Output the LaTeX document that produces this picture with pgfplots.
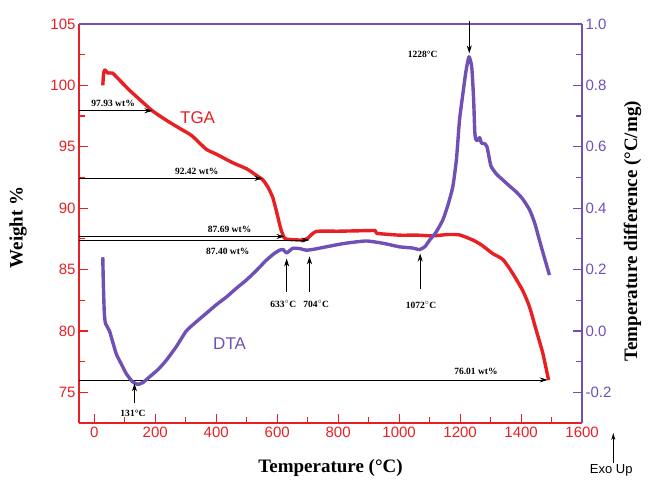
\documentclass[border=0pt]{standalone}
\usepackage{pgfplots}
\pgfplotsset{compat=1.18}
\usepackage{fontspec}
\setmainfont{Liberation Serif}
\newfontfamily\arial{Liberation Sans}
\usetikzlibrary{arrows.meta}

\definecolor{tgared}{RGB}{232,32,36}
\definecolor{dtapur}{RGB}{112,80,180}

\tikzset{
  ann/.style={-{Stealth[length=8pt,width=5pt]}, line width=0.8pt, black},
  annlab/.style={font=\fontsize{9.5}{10}\selectfont\bfseries, inner sep=1pt},
}

\pgfplotsset{
  common/.style={
    scale only axis, width=503pt, height=399pt,
    xmin=-50, xmax=1600,
    tick align=inside,
    major tick length=9pt, minor tick length=6pt,
    clip=false,
    ticklabel style={font=\arial\fontsize{15}{16}\selectfont},
    label style={font=\fontsize{19}{21}\selectfont\bfseries},
  }
}

\begin{document}
\begin{tikzpicture}
\begin{axis}[
  common,
  axis x line*=bottom, axis y line*=left,
  ymin=72.5, ymax=105,
  xtick={0,200,...,1600}, minor x tick num=1,
  xticklabels={0,200,400,600,800,1000,1200,1400,1600},
  ytick={75,80,...,105}, minor y tick num=1,
  yticklabels={75,80,85,90,95,100,105},
  axis line style={tgared, line width=1.5pt},
  every tick/.style={tgared, line width=1.2pt},
  ticklabel style={text=tgared},
  xlabel={Temperature (°C)},
  ylabel={Weight \%},
  xlabel style={at={(axis description cs:0.5,-0.113)}, anchor=center},
  ylabel style={at={(axis description cs:-0.121,0.49)}, anchor=center},
]
\addplot[tgared, line width=3.4pt, line join=round, smooth, tension=0.35] coordinates {
 (28,100.0) (31,101.0) (35,101.25) (45,101.0) (60,101.0) (80,100.5) (120,99.5)
 (160,98.6) (192,97.9) (240,97.1) (280,96.5) (320,95.9) (367,94.8) (400,94.4)
 (454,93.7) (500,93.2) (530,92.7) (553,92.3) (570,91.7) (585,90.9) (595,90.0)
 (602,89.3) (612,88.3) (624,87.55) (640,87.45) (660,87.42) (684,87.4) (700,87.55)
 (728,88.1) (800,88.12) (860,88.15) (922,88.17) (926,87.95) (1000,87.8)
 (1060,87.8) (1110,87.74) (1159,87.85) (1198,87.82) (1242,87.4) (1270,87.0)
 (1307,86.3) (1341,85.8) (1372,84.7) (1405,83.3) (1427,82.0) (1449,80.1)
 (1471,78.2) (1490,76.0)
};
\node[tgared, font=\arial\fontsize{17}{18}\selectfont] at (axis cs:339,97.35) {TGA};
% weight-loss arrows
\draw[ann] (axis cs:-50,97.93) -- (axis cs:191,97.93);
\node[annlab] at (axis cs:62,98.55) {97.93 wt\%};
\draw[ann] (axis cs:-50,92.42) -- (axis cs:552,92.42);
\node[annlab] at (axis cs:336,93.0) {92.42 wt\%};
\draw[ann] (axis cs:-50,87.69) -- (axis cs:624,87.69);
\node[annlab] at (axis cs:444,88.3) {87.69 wt\%};
\draw[ann] (axis cs:-50,87.40) -- (axis cs:706,87.40);
\node[annlab] at (axis cs:438,86.45) {87.40 wt\%};
\draw[ann] (axis cs:-50,76.01) -- (axis cs:1487,76.01);
\node[annlab] at (axis cs:1252,76.7) {76.01 wt\%};
\end{axis}

\begin{axis}[
  common,
  axis x line*=top, axis y line*=right,
  xtick=\empty,
  ymin=-0.3, ymax=1.0,
  ytick={-0.2,0,0.2,0.4,0.6,0.8,1.0}, minor y tick num=1,
  yticklabels={-0.2,0.0,0.2,0.4,0.6,0.8,1.0},
  axis line style={dtapur, line width=1.5pt},
  every tick/.style={dtapur, line width=1.2pt},
  ticklabel style={text=dtapur},
  ylabel={Temperature difference (°C/mg)},
  ylabel style={at={(axis description cs:1.10,0.48)}, anchor=center, rotate=0},
]
\addplot[dtapur, line width=3.4pt, line join=round, smooth, tension=0.35] coordinates {
 (28,0.24) (30,0.15) (33,0.06) (37,0.024) (50,0.0) (72,-0.074) (90,-0.11)
 (105,-0.139) (125,-0.165) (143,-0.174) (160,-0.168) (181,-0.15) (210,-0.125)
 (236,-0.096) (270,-0.05) (302,0.0) (335,0.03) (367,0.057) (400,0.085)
 (433,0.11) (465,0.138) (498,0.165) (530,0.195) (564,0.23) (590,0.252)
 (608,0.263) (620,0.265) (631,0.254) (651,0.269) (675,0.268) (695,0.263)
 (720,0.266) (761,0.274) (820,0.285) (892,0.293) (950,0.285) (1001,0.274)
 (1045,0.27) (1067,0.265) (1085,0.275) (1100,0.296) (1120,0.32) (1143,0.361)
 (1160,0.41) (1176,0.47) (1188,0.56) (1198,0.687) (1210,0.78) (1219,0.845)
 (1229,0.893) (1238,0.86) (1244,0.76) (1248,0.65) (1251,0.625) (1257,0.62)
 (1264,0.63) (1270,0.612) (1280,0.61) (1288,0.60) (1296,0.56) (1302,0.535)
 (1320,0.51) (1341,0.491) (1362,0.472) (1384,0.453) (1405,0.43) (1428,0.394)
 (1445,0.35) (1460,0.296) (1476,0.24) (1493,0.182)
};
\node[dtapur, font=\arial\fontsize{17}{18}\selectfont] at (axis cs:444,-0.04) {DTA};
% peak markers
\draw[ann] (axis cs:132,-0.236) -- (axis cs:132,-0.171);
\node[annlab] at (axis cs:127,-0.268) {131°C};
\draw[ann] (axis cs:631,0.127) -- (axis cs:631,0.236);
\node[annlab] at (axis cs:620,0.087) {633$^{\circ}$C};
\draw[ann] (axis cs:706,0.127) -- (axis cs:706,0.243);
\node[annlab] at (axis cs:728,0.087) {704$^{\circ}$C};
\draw[ann] (axis cs:1069,0.138) -- (axis cs:1069,0.252);
\node[annlab] at (axis cs:1072,0.084) {1072$^{\circ}$C};
\draw[ann] (axis cs:1230,1.01) -- (axis cs:1230,0.904);
\node[annlab] at (axis cs:1077,0.90) {1228°C};
% exo up
\draw[-{Stealth[length=7pt,width=4pt]}, line width=0.8pt] (axis description cs:1.062,-0.1) -- (axis description cs:1.062,-0.025);
\node[font=\arial\fontsize{13}{14}\selectfont] at (axis description cs:1.058,-0.118) {Exo Up};
\path (axis description cs:-0.157,-0.140) rectangle (axis description cs:1.131,1.060);
\end{axis}
\end{tikzpicture}
\end{document}
